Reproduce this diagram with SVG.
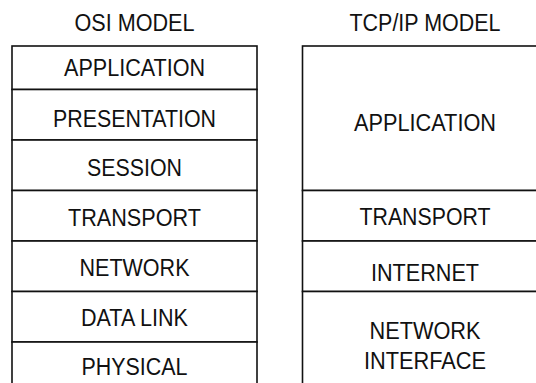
<svg xmlns="http://www.w3.org/2000/svg" width="536" height="383" viewBox="0 0 536 383">
<style>
.box{fill:#fff;stroke:#111;stroke-width:1.6}
.t{font-family:"Liberation Sans",Arial,sans-serif;font-size:23px;fill:#111;text-anchor:middle}
</style>
<rect width="536" height="383" fill="#fff"/>
<g id="titles">
<text class="t" x="134.5" y="31" textLength="120" lengthAdjust="spacingAndGlyphs">OSI MODEL</text>
<text class="t" x="425" y="31" textLength="151" lengthAdjust="spacingAndGlyphs">TCP/IP MODEL</text>
</g>
<g id="osi">
<g id="osi-application"><rect class="box" x="12" y="46" width="245" height="43.5"/><text class="t" x="134.5" y="76" textLength="141" lengthAdjust="spacingAndGlyphs">APPLICATION</text></g>
<g id="osi-presentation"><rect class="box" x="12" y="89.5" width="245" height="50.5"/><text class="t" x="134.5" y="126.5" textLength="163" lengthAdjust="spacingAndGlyphs">PRESENTATION</text></g>
<g id="osi-session"><rect class="box" x="12" y="140" width="245" height="50.5"/><text class="t" x="134.5" y="176" textLength="95" lengthAdjust="spacingAndGlyphs">SESSION</text></g>
<g id="osi-transport"><rect class="box" x="12" y="190.5" width="245" height="50.5"/><text class="t" x="134.5" y="225.5" textLength="133" lengthAdjust="spacingAndGlyphs">TRANSPORT</text></g>
<g id="osi-network"><rect class="box" x="12" y="241" width="245" height="50.5"/><text class="t" x="134.5" y="276" textLength="110" lengthAdjust="spacingAndGlyphs">NETWORK</text></g>
<g id="osi-datalink"><rect class="box" x="12" y="291.5" width="245" height="50.5"/><text class="t" x="134.5" y="325.5" textLength="107" lengthAdjust="spacingAndGlyphs">DATA LINK</text></g>
<g id="osi-physical"><rect class="box" x="12" y="342" width="245" height="50.5"/><text class="t" x="134.5" y="375" textLength="106" lengthAdjust="spacingAndGlyphs">PHYSICAL</text></g>
</g>
<g id="tcpip">
<g id="tcp-application"><rect class="box" x="302.5" y="46" width="245" height="144.5"/><text class="t" x="425" y="131" textLength="142" lengthAdjust="spacingAndGlyphs">APPLICATION</text></g>
<g id="tcp-transport"><rect class="box" x="302.5" y="190.5" width="245" height="50.5"/><text class="t" x="425" y="224.5" textLength="131" lengthAdjust="spacingAndGlyphs">TRANSPORT</text></g>
<g id="tcp-internet"><rect class="box" x="302.5" y="241" width="245" height="50.5"/><text class="t" x="425" y="281" textLength="108" lengthAdjust="spacingAndGlyphs">INTERNET</text></g>
<g id="tcp-netif"><rect class="box" x="302.5" y="291.5" width="245" height="101"/><text class="t" x="425" y="338.5" textLength="111" lengthAdjust="spacingAndGlyphs">NETWORK</text><text class="t" x="425" y="368.5" textLength="122" lengthAdjust="spacingAndGlyphs">INTERFACE</text></g>
</g>
<g id="connectors"/>
</svg>
